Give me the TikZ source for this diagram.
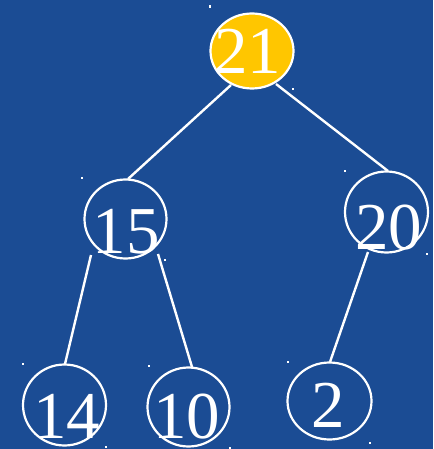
\documentclass[tikz,border=0pt]{standalone}
\usepackage{fontspec}
\setmainfont{Liberation Serif}
\usetikzlibrary{calc,shapes.geometric}
\definecolor{bg}{RGB}{27,76,148}
\definecolor{gold}{RGB}{255,198,0}
\begin{document}
\begin{tikzpicture}[x=1pt,y=-1pt,
  ball/.style={ellipse,draw=white,line width=2.2pt,minimum width=82pt,minimum height=79pt,inner sep=0pt},
  num/.style={text=white,font=\fontsize{67}{67}\selectfont,inner sep=0pt},
  edge/.style={draw=white,line width=2.4pt},
  dot/.style={fill=white}]
\fill[bg] (0,0) rectangle (433,449);
\useasboundingbox (0,0) rectangle (433,449);
% nodes
\node[ball,fill=gold,minimum width=83pt,minimum height=75pt,label={[num,xshift=-4.5pt]center:21}] (n21) at (252,51) {};
\node[ball,label={[num,xshift=0.5pt,yshift=-12.5pt]center:15}] (n15) at (125.5,219) {};
\node[ball,minimum width=83pt,minimum height=81pt,label={[num,xshift=2pt,yshift=-15.5pt]center:20}] (n20) at (386.5,212) {};
\node[ball,minimum width=83pt,minimum height=81pt,label={[num,xshift=2pt,yshift=-11.7pt]center:14}] (n14) at (64.5,405) {};
\node[ball,label={[num,xshift=-2pt,yshift=-9.7pt]center:10}] (n10) at (188.5,407) {};
\node[ball,minimum width=84pt,minimum height=77pt,label={[num,xshift=-1pt,yshift=-4.8pt]center:2}] (n2) at (329.5,401) {};
% connectors
\draw[edge] ($(n21.center)+(-21,34)$) -- ($(n15.center)+(2.5,-40)$);
\draw[edge] ($(n21.center)+(24,33)$) -- ($(n20.center)+(1.5,-41)$);
\draw[edge] ($(n15.center)+(-34.5,36)$) -- ($(n14.center)+(0.5,-41)$);
\draw[edge] ($(n15.center)+(32.5,35)$) -- ($(n10.center)+(3.5,-40)$);
\draw[edge] ($(n20.center)+(-18.5,40)$) -- ($(n2.center)+(0.5,-39)$);
% small handle marks
\foreach \p in {(210,6.5),(293,89),(82,178),(165,260),(345,171),(427,254),(23,364),(106,447),(149,366),(230,448),(288,362),(370,443)}{
  \fill[dot] \p ++(-1.3,-1.3) rectangle ++(2.6,2.6);
}
\end{tikzpicture}
\end{document}
